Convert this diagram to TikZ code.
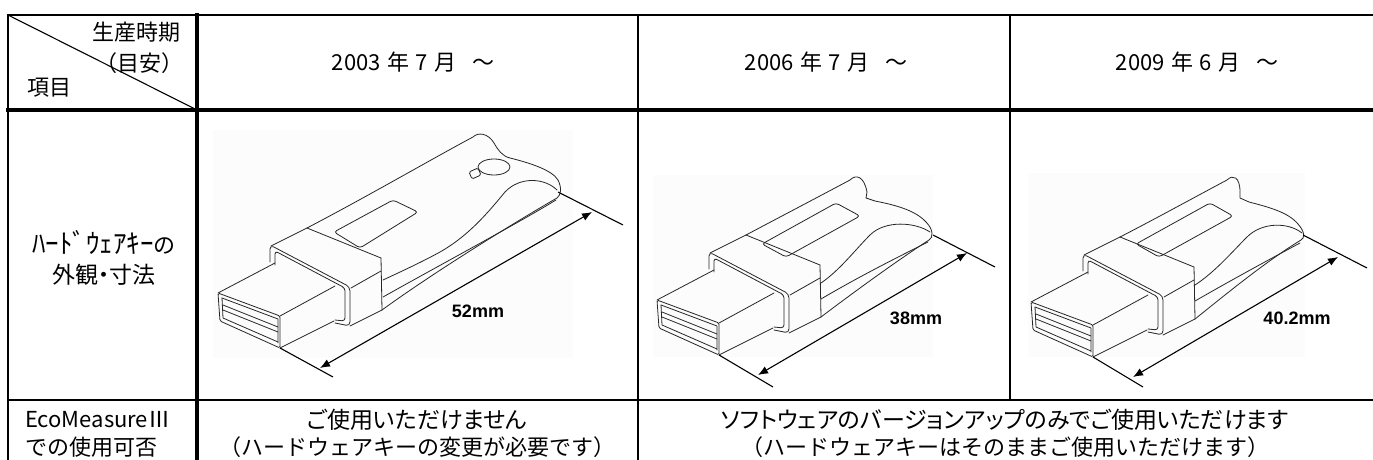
\documentclass[tikz,border=0pt]{standalone}
\usepackage{fontspec}
\setmainfont{Liberation Sans}
\newfontfamily\jp{Noto Sans CJK JP}
\newfontfamily\jpp[RawFeature=+palt]{Noto Sans CJK JP}
\usetikzlibrary{arrows.meta}
\tikzset{
  gridline/.style={line width=2.3pt, line cap=rect},
  gridthick/.style={line width=3.6pt, line cap=rect},
  diagline/.style={line width=1.1pt},
  jptext/.style={font=\jp\fontsize{22}{26}\selectfont, inner sep=0pt},
  jpprop/.style={font=\jpp\fontsize{23}{26}\selectfont, inner sep=0pt},
  dimtext/.style={font=\bfseries\fontsize{18}{20}\selectfont, inner sep=0pt},
  keyline/.style={line width=0.8pt, draw=black!85, line join=round, line cap=round},
  dimline/.style={line width=1.1pt, {Latex[length=10pt,width=8pt]}-{Latex[length=10pt,width=8pt]}},
  extline/.style={line width=1.1pt},
  photobg/.style={fill=black!1, draw=none},
  plugcollar/.pic={
    % plug front face
    \draw[keyline, rounded corners=1.5pt] (0,0) -- (62,23) -- (62,55) -- (2,28) -- cycle;
    \draw[keyline] (4,5) -- (60,26) -- (60,50);
    \draw[keyline] (4,5) -- (5,25) -- (60,49);
    \draw[keyline] (5,12) -- (60,34);
    \draw[keyline] (5,17) -- (60,39);
    % plug top and side edges
    \draw[keyline] (0,0) -- (57,-30);
    \draw[keyline] (62,23) -- (117,-7);
    \draw[keyline] (62,55) -- (116,28);
    % collar front face
    \draw[keyline, rounded corners=4pt] (52,-31) -- (52,-48) -- (132,-6) -- (132,33) -- (117,30);
    \draw[keyline, rounded corners=3pt] (57,-28) -- (57,-42) -- (127,-5) -- (127,28) -- (117,27);
    % collar depth
    \draw[keyline] (53,-47) -- (89,-65);
    \draw[keyline] (89,-65) -- (163,-35);
    \draw[keyline] (163,-35) -- (164,17);
    \draw[keyline] (132,33) -- (164,17);
    \draw[keyline] (133,-5) -- (163,-22);
  }
}
\begin{document}
\begin{tikzpicture}[x=1pt,y=-1pt]
\useasboundingbox (0,0) rectangle (1373,460);
\fill[white] (0,0) rectangle (1373,460);

% ---------- photo backgrounds ----------
\fill[photobg] (213,130) rectangle (573,358);
\fill[photobg] (653,175) rectangle (933,357);
\fill[photobg] (1028,173) rectangle (1305,357);

% ---------- table grid ----------
\coordinate (tl) at (8,15);
\coordinate (tr) at (1373,15);
\coordinate (r1l) at (8,110);
\coordinate (r1r) at (1373,110);
\coordinate (r2l) at (8,400);
\coordinate (r2r) at (1373,400);
\coordinate (bl) at (8,460);
\coordinate (c1t) at (197,15);
\coordinate (c1m) at (197,110);
\coordinate (c1b) at (197,460);
\coordinate (c2t) at (638,15);
\coordinate (c2b) at (638,460);
\coordinate (c3t) at (1010,15);
\coordinate (c3b) at (1010,400);

\draw[gridline] (tl) -- (tr);
\draw[gridthick] (r1l) -- (r1r);
\draw[gridline] (r2l) -- (r2r);
\draw[gridline] (tl) -- (bl);
\draw[gridthick] (c1t) -- (c1b);
\draw[gridline] (c2t) -- (c2b);
\draw[gridline] (c3t) -- (c3b);
\draw[diagline] (tl) -- (c1m);

% ---------- header texts ----------
\node[jptext, anchor=east] (hperiod) at (181,32) {生産時期};
\node[jptext, anchor=east] (hmeyasu) at (184,63) {（目安）};
\node[jptext, anchor=west] (hitem) at (27,88) {項目};
\node[jptext] (d1) at (413,62) {2003\hspace{0.3em}年\hspace{0.3em}7\hspace{0.3em}月\hspace{0.7em}～};
\node[jptext] (d2) at (826,62) {2006\hspace{0.3em}年\hspace{0.3em}7\hspace{0.3em}月\hspace{0.7em}～};
\node[jptext] (d3) at (1197,62) {2009\hspace{0.3em}年\hspace{0.3em}6\hspace{0.3em}月\hspace{0.7em}～};

% ---------- row 2 label ----------
\node[jptext] (ra) at (104,243) {{\fontsize{27}{27}\selectfont ﾊｰﾄﾞｳｪｱｷｰ}の};
\node[jpprop] (rb) at (104,275) {外観・寸法};

% ---------- row 3 texts ----------
\node[jptext, anchor=west] (ea) at (25,420) {EcoMeasureⅢ};
\node[jptext, anchor=west] (eb) at (25,447) {での使用可否};
\node[jpprop] (na) at (417,420) {ご使用いただけません};
\node[jptext] (nb) at (417,447) {（ハードウェアキーの変更が必要です）};
\node[jpprop] (ya) at (1005,420) {ソフトウェアのバージョンアップのみでご使用いただけます};
\node[jptext] (yb) at (1005,447) {（ハードウェアキーはそのままご使用いただけます）};

% ================= key 1 (2003) =================
\pic at (218,293) {plugcollar};
\draw[keyline] (307,228) .. controls (370,195) and (430,160) .. (473,137)
  .. controls (478,132) and (488,133) .. (494,143)
  .. controls (498,150) and (502,156) .. (510,158)
  .. controls (530,163) and (552,170) .. (558,180)
  .. controls (562,188) and (561,195) .. (557,198)
  .. controls (510,225) and (430,275) .. (382,310);
\draw[keyline] (557,190) .. controls (545,178) and (520,176) .. (505,192)
  .. controls (490,210) and (470,235) .. (440,252)
  .. controls (420,263) and (400,272) .. (383,280);
\draw[keyline] (383,297) .. controls (440,265) and (520,222) .. (556,200);
\draw[keyline, rounded corners=3pt] (334,232) -- (393,200) -- (418,212) -- (360,248) -- cycle;
\draw[keyline] (494,167) ellipse [x radius=16, y radius=8];
\draw[keyline, rounded corners=1.5pt] (469,172) -- (478,168) -- (481,175) -- (472,179) -- cycle;
\coordinate (k1a) at (280,348);
\coordinate (k1b) at (333,377);
\coordinate (k1c) at (558,192);
\coordinate (k1d) at (623,225);
\coordinate (k1s) at (320,368);
\coordinate (k1e) at (592,212);
\draw[extline] (k1a) -- (k1b);
\draw[extline] (k1c) -- (k1d);
\draw[dimline] (k1s) -- (k1e);
\node[dimtext] (l1) at (478,311) {52mm};

% ================= key 2 (2006) =================
\pic at (657,300) {plugcollar};
\draw[keyline] (746,235) .. controls (780,217) and (820,196) .. (850,180)
  .. controls (856,174) and (864,176) .. (867,192)
  -- (866,198) -- (875,201)
  .. controls (895,205) and (915,210) .. (926,222)
  .. controls (934,230) and (933,238) .. (929,240)
  .. controls (895,262) and (850,295) .. (821,317);
\draw[keyline] (930,232) .. controls (915,222) and (885,220) .. (870,235)
  .. controls (855,250) and (840,270) .. (821,283);
\draw[keyline] (821,299) .. controls (860,276) and (900,256) .. (928,242);
\draw[keyline, rounded corners=3pt] (762,244) -- (836,203) -- (860,216) -- (786,257) -- cycle;
\coordinate (k2a) at (719,355);
\coordinate (k2b) at (773,387);
\coordinate (k2c) at (933,235);
\coordinate (k2d) at (995,267);
\coordinate (k2s) at (758,375);
\coordinate (k2e) at (967,253);
\draw[extline] (k2a) -- (k2b);
\draw[extline] (k2c) -- (k2d);
\draw[dimline] (k2s) -- (k2e);
\node[dimtext] (l2) at (916,318) {38mm};

% ================= key 3 (2009) =================
\pic at (1031,302) {plugcollar};
\draw[keyline] (1120,237) .. controls (1155,219) and (1195,197) .. (1227,180)
  .. controls (1233,174) and (1240,177) .. (1240,192)
  -- (1240,198) -- (1249,202)
  .. controls (1268,207) and (1288,212) .. (1298,224)
  .. controls (1305,232) and (1305,238) .. (1301,240)
  .. controls (1265,262) and (1225,295) .. (1195,319);
\draw[keyline] (1302,233) .. controls (1288,222) and (1262,222) .. (1247,237)
  .. controls (1232,252) and (1215,272) .. (1195,285);
\draw[keyline] (1195,301) .. controls (1235,278) and (1272,258) .. (1300,243);
\draw[keyline, rounded corners=3pt] (1136,244) -- (1210,203) -- (1233,216) -- (1159,257) -- cycle;
\coordinate (k3a) at (1093,357);
\coordinate (k3b) at (1143,387);
\coordinate (k3c) at (1303,235);
\coordinate (k3d) at (1367,268);
\coordinate (k3s) at (1133,377);
\coordinate (k3e) at (1338,257);
\draw[extline] (k3a) -- (k3b);
\draw[extline] (k3c) -- (k3d);
\draw[dimline] (k3s) -- (k3e);
\node[dimtext] (l3) at (1297,318) {40.2mm};
\end{tikzpicture}
\end{document}
